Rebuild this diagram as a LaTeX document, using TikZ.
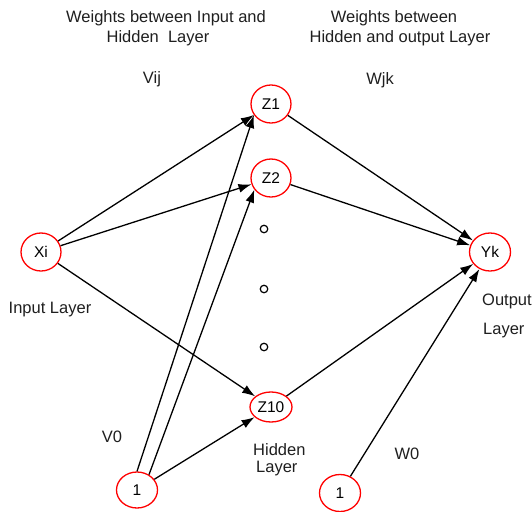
\documentclass[tikz,border=0pt]{standalone}
\usepackage{fontspec}
\setmainfont{Liberation Sans}
\usetikzlibrary{shapes.geometric,arrows.meta}
\begin{document}
\begin{tikzpicture}[x=1pt,y=-1pt,
  neuron/.style={ellipse,draw=red,line width=1.3pt,inner sep=0pt,
    minimum width=40pt,minimum height=38pt,font=\fontsize{15.5}{17}\selectfont},
  conn/.style={line width=1.3pt,-{Latex[length=13pt,width=9pt]}},
  lbl/.style={anchor=base,inner sep=0pt,text=black!88,font=\fontsize{16.5}{19}\selectfont},
  gap/.style={circle,draw,line width=1.2pt,inner sep=0pt,minimum size=7.5pt}]
\useasboundingbox (0,0) rectangle (532,511);

% neurons
\node[neuron] (xi) at (41,252) {Xi};
\node[neuron] (z1) at (271,104) {Z1};
\node[neuron] (z2) at (271,178) {Z2};
\node[neuron,minimum width=42pt,minimum height=30pt] (z10) at (271,407) {Z10};
\node[neuron,minimum width=41pt] (yk) at (490,252) {Yk};
\node[neuron,minimum width=41pt,minimum height=36pt] (b1) at (137,490) {1};
\node[neuron,minimum width=41pt,minimum height=37pt] (b2) at (340,493) {1};

% omitted hidden units
\node[gap] (d1) at (264,229) {};
\node[gap] (d2) at (264,289) {};
\node[gap] (d3) at (264,347) {};

% input to hidden
\draw[conn] (xi) -- (z1);
\draw[conn] (xi) -- (z2);
\draw[conn] (xi) -- (z10);
% hidden bias
\draw[conn] (b1.north) -- (z1.213);
\draw[conn] (b1.52) -- (z2.215);
\draw[conn] (b1) -- (z10);
% hidden to output
\draw[conn] (z1) -- (yk);
\draw[conn] (z2) -- (yk);
\draw[conn] (z10) -- (yk);
% output bias
\draw[conn] (b2) -- (yk);

% labels
\node[lbl] (t1) at (166,23) {Weights between Input and};
\node[lbl] (t2) at (158,42) {Hidden\ \ Layer};
\node[lbl] (t3) at (394,23) {Weights between};
\node[lbl] (t4) at (400,42) {Hidden and output Layer};
\node[lbl] (vij) at (152,83) {Vij};
\node[lbl] (wjk) at (380,84) {Wjk};
\node[lbl] (il) at (50,313) {Input Layer};
\node[lbl,anchor=base west] (ol1) at (482,305) {Output};
\node[lbl,anchor=base west] (ol2) at (483,334) {Layer};
\node[lbl] (v0) at (112,442) {V0};
\node[lbl] (w0) at (407,459) {W0};
\node[lbl,anchor=base west] (hl1) at (253,455) {Hidden};
\node[lbl,anchor=base west] (hl2) at (256,472) {Layer};
\end{tikzpicture}
\end{document}
